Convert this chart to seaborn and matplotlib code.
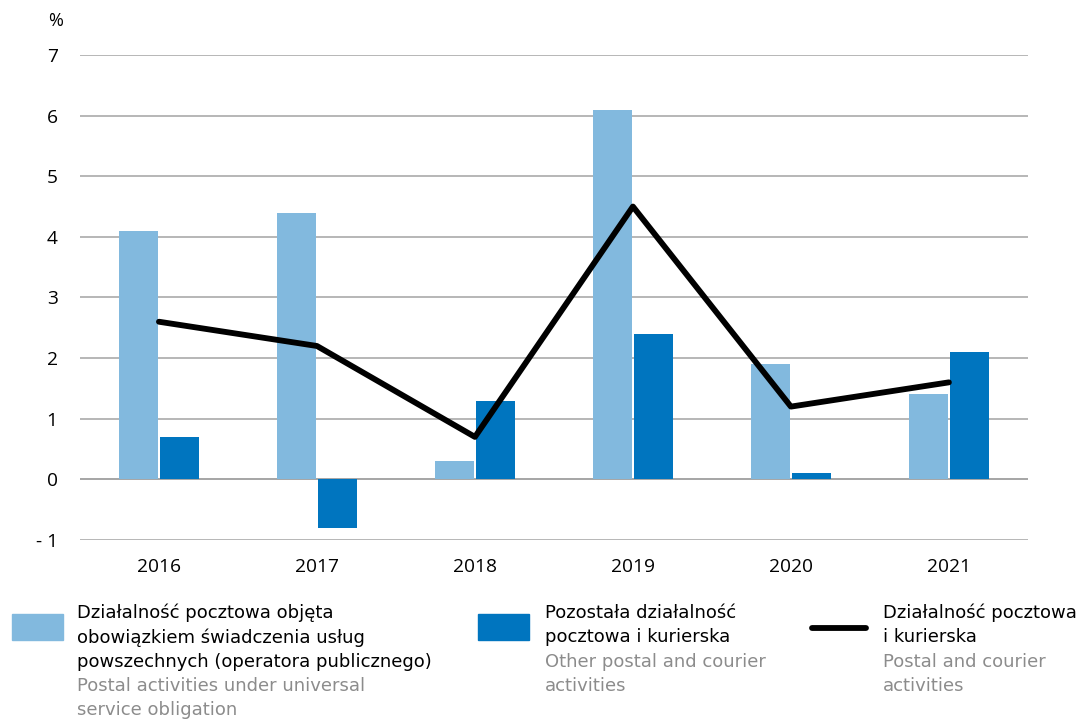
import pandas as pd
import numpy as np
import matplotlib.pyplot as plt
import matplotlib.patches as mpatches
import matplotlib.lines as mlines
import seaborn as sns

# Data
years = ["2016", "2017", "2018", "2019", "2020", "2021"]
universal_service = [4.1, 4.4, 0.3, 6.1, 1.9, 1.4]
other_postal = [0.7, -0.8, 1.3, 2.4, 0.1, 2.1]
postal_total = [2.6, 2.2, 0.7, 4.5, 1.2, 1.6]
y_ticks = [-1, 0, 1, 2, 3, 4, 5, 6, 7]

LIGHT = "#82b9de"
DARK = "#0075bf"
GREY_TXT = "#8c8c8c"

sns.set_theme(style="white")
plt.rcParams['font.family'] = ['Open Sans', 'DejaVu Sans']
plt.rcParams['text.color'] = 'black'
plt.rcParams['xtick.color'] = 'black'
plt.rcParams['ytick.color'] = 'black'

df = pd.DataFrame({
    "year": years * 2,
    "value": universal_service + other_postal,
    "series": ["universal"] * len(years) + ["other"] * len(years),
})

fig = plt.figure(figsize=(10.76, 7.19), dpi=100)
ax = fig.add_axes([0.0743, 0.249, 0.881, 0.6745])

sns.barplot(data=df, x="year", y="value", hue="series", order=years,
            palette={"universal": LIGHT, "other": DARK}, width=0.52, gap=0.05,
            saturation=1, linewidth=0, legend=False, ax=ax, zorder=3)
sns.lineplot(x=np.arange(len(years)), y=postal_total, color="black",
             linewidth=4.2, ax=ax, zorder=4)

ax.set_xlim(-0.5, len(years) - 0.5)
ax.set_ylim(-1, 7)
ax.set_yticks(y_ticks)
ax.set_yticklabels([f"- {abs(v)}" if v < 0 else str(v) for v in y_ticks], fontsize=13.8)
ax.tick_params(axis="x", labelsize=13.8, length=0, pad=13, labelcolor="black")
ax.tick_params(axis="y", length=0, pad=16, labelcolor="black")
ax.set_xlabel("")
ax.set_ylabel("")
ax.grid(axis="y", color="#a3a3a3", linewidth=1.1, zorder=0)
ax.axhline(0, color="#a3a3a3", linewidth=1.1, zorder=2)
sns.despine(ax=ax, left=True, bottom=True)

fig.text(48 / 1076, 1 - 21 / 719, "%", fontsize=13, va="center", ha="left", color="black")

# Legend drawn by hand (two-language labels)
fs = 13
entries = [
    (12, 77, "patch", LIGHT,
     ["Działalność pocztowa objęta", "obowiązkiem świadczenia usług",
      "powszechnych (operatora publicznego)"],
     ["Postal activities under universal", "service obligation"]),
    (478, 545, "patch", DARK,
     ["Pozostała działalność", "pocztowa i kurierska"],
     ["Other postal and courier", "activities"]),
    (812, 883, "line", "black",
     ["Działalność pocztowa", "i kurierska"],
     ["Postal and courier", "activities"]),
]
line_h = 24.3
for hx, tx, kind, col, pl, en in entries:
    if kind == "patch":
        fig.add_artist(mpatches.Rectangle((hx / 1076, 1 - 640 / 719), 51 / 1076, 26 / 719,
                                          transform=fig.transFigure, color=col))
    else:
        fig.add_artist(mlines.Line2D([hx / 1076, (hx + 54) / 1076],
                                     [1 - 628 / 719, 1 - 628 / 719],
                                     transform=fig.transFigure, color=col,
                                     linewidth=4.2, solid_capstyle="round"))
    y = 613
    for s in pl:
        fig.text(tx / 1076, 1 - y / 719, s, fontsize=fs, family=['DejaVu Sans'], va="center", color="black")
        y += line_h
    for s in en:
        fig.text(tx / 1076, 1 - y / 719, s, fontsize=fs, family=['DejaVu Sans'], va="center", color=GREY_TXT)
        y += line_h

fig.savefig("out.png", dpi=100)
